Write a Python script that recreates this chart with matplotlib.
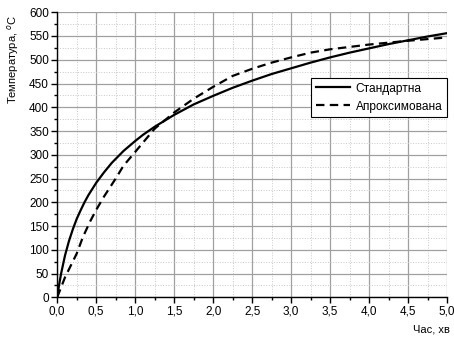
import matplotlib
matplotlib.use("Agg")
import matplotlib.pyplot as plt
from matplotlib.ticker import MultipleLocator, FuncFormatter

plt.rcParams['font.family'] = ['Liberation Sans', 'DejaVu Sans']
plt.rcParams['font.size'] = 8

# --- дані ---
t_std = [0, 0.02, 0.05, 0.1, 0.15, 0.2, 0.25, 0.3, 0.35, 0.4, 0.5, 0.6, 0.7,
         0.85, 1.0, 1.1, 1.25, 1.5, 1.75, 2.0, 2.25, 2.5, 2.75, 3.0, 3.25,
         3.5, 3.75, 4.0, 4.25, 4.5, 4.75, 5.0]
T_std = [0, 22, 50, 88, 118, 143, 165, 183, 200, 215, 241, 263, 283,
         308, 329, 342, 359, 384, 406, 424, 441, 456, 470, 482, 494,
         505, 515, 524, 533, 541, 549, 556]

t_apr = [0, 0.1, 0.25, 0.33, 0.42, 0.5, 0.6, 0.75, 0.85, 1.0, 1.25, 1.5,
         1.75, 2.0, 2.25, 2.5, 2.75, 3.0, 3.25, 3.5, 4.0, 4.5, 5.0]
T_apr = [0, 42, 92, 127, 159, 184, 212, 250, 277, 306, 355, 389,
         418, 443, 466, 481, 494, 505, 515, 522, 532, 540, 547]

fig = plt.figure(figsize=(4.54, 3.40), dpi=100)
ax = fig.add_axes([0.126, 0.1256, 0.859, 0.8384])

ax.plot(t_std, T_std, color='black', lw=1.6, label='Стандартна')
ax.plot(t_apr, T_apr, color='black', lw=1.6, linestyle=(0, (3.8, 2.4)),
        label='Апроксимована')

ax.set_xlim(0, 5)
ax.set_ylim(0, 600)
ax.xaxis.set_major_locator(MultipleLocator(0.5))
ax.xaxis.set_minor_locator(MultipleLocator(0.25))
ax.yaxis.set_major_locator(MultipleLocator(50))
ax.yaxis.set_minor_locator(MultipleLocator(25))
ax.xaxis.set_major_formatter(FuncFormatter(lambda v, p: f'{v:.1f}'.replace('.', ',')))

ax.grid(True, which='major', color='#a0a0a0', lw=0.9, ls='-')
ax.grid(True, which='minor', color='#c8c8c8', lw=0.7, ls=':')
ax.set_axisbelow(True)

for s in ['top', 'right']:
    ax.spines[s].set_visible(False)
for s in ['left', 'bottom']:
    ax.spines[s].set_linewidth(1.0)
ax.tick_params(which='major', direction='out', length=4, width=1, pad=2,
               labelsize=8.5)
ax.tick_params(which='minor', direction='out', length=2.5, width=1)

leg = ax.legend(loc='upper right', bbox_to_anchor=(1.0, 0.77), borderaxespad=0,
                fancybox=False, framealpha=1, edgecolor='black',
                handlelength=2.8, handletextpad=0.5, fontsize=8.6)
leg.get_frame().set_linewidth(0.8)

fig.text(13 / 454, 1 - 59 / 340, 'Температура, $^o$C', rotation=90,
         ha='center', va='center', fontsize=8)
fig.text(450 / 454, 1 - 330 / 340, 'Час, хв', ha='right', va='center', fontsize=8)

fig.savefig('out.png', dpi=100)
